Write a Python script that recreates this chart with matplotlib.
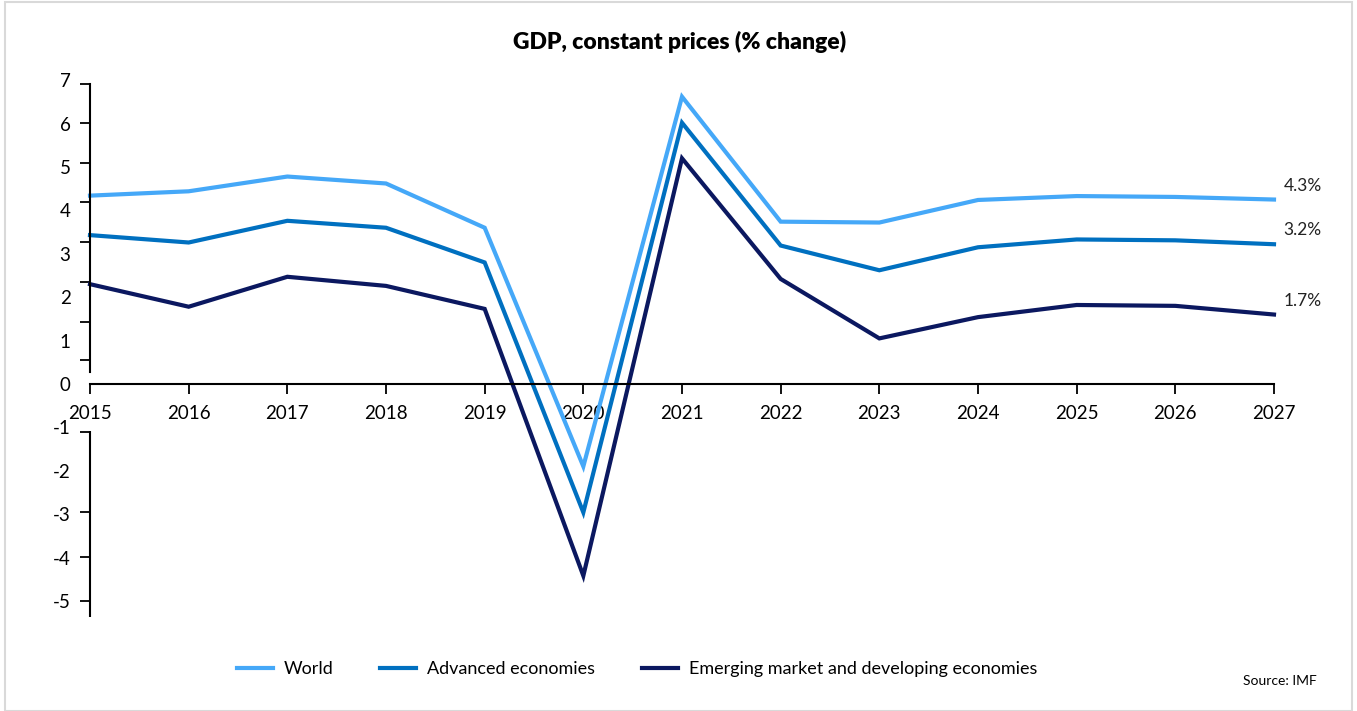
import matplotlib
matplotlib.use("Agg")
import matplotlib.pyplot as plt
from matplotlib.patches import Rectangle

plt.rcParams['font.family'] = ['Lato', 'DejaVu Sans']

years = list(range(2015, 2028))
world = [4.34, 4.44, 4.78, 4.62, 3.60, -1.90, 6.62, 3.74, 3.72, 4.24, 4.33, 4.31, 4.25]
advanced = [3.43, 3.26, 3.76, 3.60, 2.80, -2.96, 6.02, 3.19, 2.62, 3.15, 3.33, 3.31, 3.22]
emerging = [2.30, 1.78, 2.47, 2.26, 1.73, -4.42, 5.20, 2.42, 1.05, 1.54, 1.82, 1.80, 1.60]
series_names = ["World", "Advanced economies", "Emerging market and developing economies"]
end_labels = ["4.3%", "3.2%", "1.7%"]
y_labels = list(range(-5, 8))

colors = ["#45A8F8", "#0070C0", "#0B1860"]

W, H = 1357, 711
fig = plt.figure(figsize=(W / 100, H / 100), dpi=100)
ax = fig.add_axes([90 / W, 1 - 617 / H, (1274 - 90) / W, (617 - 80.2) / H])

for vals, c, name in zip([world, advanced, emerging], colors, series_names):
    ax.plot(years, vals, color=c, lw=3.0, label=name, solid_joinstyle='miter', clip_on=False)

for vals, lab in zip([world, advanced, emerging], end_labels):
    ax.annotate(lab, xy=(years[-1], vals[-1]), xytext=(7, 10), textcoords='offset points',
                fontsize=12.5, color='#222222', ha='left', va='center')

ax.set_xlim(2015, 2027)
ax.set_ylim(-5.37, 7.0)

# spines
for s in ['top', 'right']:
    ax.spines[s].set_visible(False)
ax.spines['bottom'].set_position(('data', 0))
ax.spines['bottom'].set_linewidth(1.5)
ax.spines['left'].set_linewidth(1.5)
ax.spines['left'].set_bounds(0.28, 6.91)
ax.plot([2015, 2015], [-1.08, -5.37], color='black', lw=1.5, clip_on=False, solid_capstyle='butt')

ax.set_xticks(years)
ax.set_xticklabels([str(y) for y in years])
ax.tick_params(axis='x', direction='out', length=7, width=1.3, pad=8, labelsize=13.5)

ax.set_yticks(y_labels)
ax.set_yticklabels([str(v) for v in y_labels])
ax.tick_params(axis='y', which='major', length=0, pad=14, labelsize=13.5)
ax.set_yticks([6.91, 6.01, 5.09, 4.19, 3.27, 2.35, 1.43, 0.55,
               -1.10, -2.00, -2.95, -3.99, -4.99], minor=True)
ax.tick_params(axis='y', which='minor', direction='out', length=7, width=1.3)

fig.text(680 / W, 1 - 42 / H, "GDP, constant prices (% change)", ha='center', va='center',
         fontsize=16.5, fontweight='heavy')

leg = fig.legend(loc='center', bbox_to_anchor=(637 / W, 1 - 669 / H), ncol=3, frameon=False,
                 fontsize=13, handlelength=2.0, columnspacing=2.6, handletextpad=0.6)

fig.text(1280 / W, 1 - 681 / H, "Source: IMF", ha='center', va='center', fontsize=10)

fig.patches.append(Rectangle((5 / W, 0), (1352 - 5) / W, 1 - 2 / H, transform=fig.transFigure,
                             fill=False, edgecolor='#D9D9D9', lw=1.5))

fig.savefig("out.png", dpi=100, facecolor='white')
